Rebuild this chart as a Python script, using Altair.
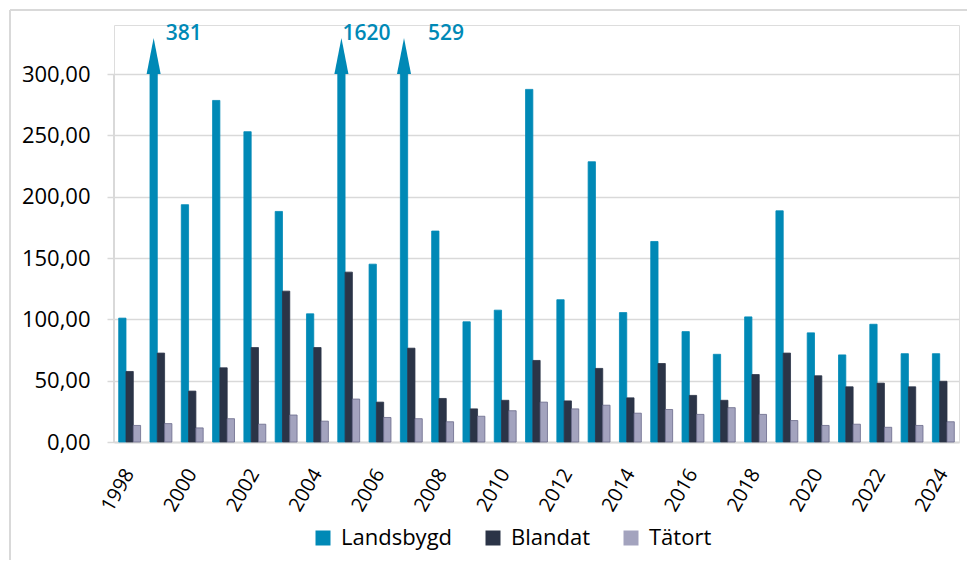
import altair as alt
import pandas as pd

years = [1998, 1999, 2000, 2001, 2002, 2003, 2004, 2005, 2006, 2007, 2008, 2009, 2010,
         2011, 2012, 2013, 2014, 2015, 2016, 2017, 2018, 2019, 2020, 2021, 2022, 2023, 2024]
landsbygd = [101, 381, 193.5, 278.5, 253, 188, 104.5, 1620, 145, 529, 172, 98, 107.5,
             287.5, 116, 228.5, 105.5, 163.5, 90, 71.5, 102, 188.5, 89, 71, 96, 72, 72]
blandat = [57.5, 72.5, 41.5, 60.5, 77, 123, 77, 138.5, 32.5, 76.5, 35.5, 27, 34,
           66.5, 33.5, 60, 36, 64, 38, 34, 55, 72.5, 54, 45, 48, 45, 49.5]
tatort = [13.5, 15, 11.5, 19, 14.5, 22, 17, 35, 20, 19, 16.5, 21, 25.5,
          32.5, 27, 30, 23.5, 26.5, 22.5, 28, 22.5, 17.5, 13.5, 14.5, 12, 13.5, 16.5]
series = ["Landsbygd", "Blandat", "Tätort"]
y_ticks = [0, 50, 100, 150, 200, 250, 300]

colors = ["#0089B6", "#2B3447", "#A3A3BE"]
strokes = ["#0089B6", "#2B3447", "#6A6A8A"]
CAP = 300
label_dx = {1999: 13, 2005: 2, 2007: 25}

rows = []
for i, yr in enumerate(years):
    for s, vals in zip(series, [landsbygd, blandat, tatort]):
        rows.append({"year": yr, "series": s, "value": vals[i]})
df = pd.DataFrame(rows)

FONT = "Open Sans"
GRID = "#d9d9d9"

x_enc = alt.X(
    "year:O",
    scale=alt.Scale(paddingInner=0.3, paddingOuter=0.15),
    axis=alt.Axis(
        values=years[::2], labelAngle=-60, title=None, ticks=False,
        domainColor=GRID, domainWidth=2, labelFontSize=20, labelFont=FONT,
        labelColor="#000000", labelPadding=28, grid=False,
    ),
)
xoff_enc = alt.XOffset("series:N", scale=alt.Scale(domain=series, paddingInner=0, paddingOuter=0))
y_scale = alt.Scale(domain=[0, 340], nice=False)

base = alt.Chart(df)

bars = base.transform_calculate(shown=f"min(datum.value, {CAP})").mark_bar(strokeWidth=0.8).encode(
    x=x_enc,
    xOffset=xoff_enc,
    y=alt.Y(
        "shown:Q",
        scale=y_scale,
        axis=alt.Axis(
            values=y_ticks, title=None, grid=True, gridColor=GRID, gridWidth=1.5,
            domain=False, tickColor=GRID, tickSize=7, tickWidth=1.5,
            labelFontSize=22, labelFont=FONT, labelColor="#000000", labelPadding=17,
            labelExpr="replace(format(datum.value, '.2f'), '.', ',')",
        ),
    ),
    color=alt.Color(
        "series:N",
        scale=alt.Scale(domain=series, range=colors),
        legend=alt.Legend(
            title=None, orient="none", direction="horizontal", legendX=198, legendY=502,
            symbolType="square", symbolSize=225, symbolStrokeWidth=0,
            labelFontSize=22, labelFont=FONT, labelColor="#000000",
            labelOffset=7, columnPadding=29,
        ),
    ),
    stroke=alt.Stroke("series:N", scale=alt.Scale(domain=series, range=strokes), legend=None),
)

y_line = alt.Chart(df).mark_rule(color=GRID, strokeWidth=1.5).encode(
    x=alt.value(0), y=alt.datum(0, scale=y_scale), y2=alt.datum(CAP)
)

frame_top = alt.Chart(df).mark_rule(color=GRID, strokeWidth=1.5, clip=False).encode(
    x=alt.value(-104), x2=alt.value(853), y=alt.value(-15)
)
frame_left = alt.Chart(df).mark_rule(color=GRID, strokeWidth=1.5, clip=False).encode(
    x=alt.value(-104), y=alt.value(-15), y2=alt.value(535)
)

over = base.transform_filter(f"datum.value > {CAP}")

heads = over.mark_point(
    shape="M -0.78 0 L 0 -4 L 0.78 0 Z", size=324, filled=True, opacity=1, color="#0089B6"
).encode(
    x=alt.X("year:O"),
    xOffset=alt.XOffset("series:N"),
    y=alt.Y("cap:Q", scale=y_scale),
).transform_calculate(cap=str(CAP))

labels = []
for yr, dx in label_dx.items():
    labels.append(
        base.transform_filter(f"datum.year == {yr} && datum.series == 'Landsbygd'")
        .transform_calculate(cap=str(CAP))
        .mark_text(align="left", baseline="middle", dx=dx - 1, dy=-40, fontSize=21,
                   fontWeight=600, font="Open Sans", color="#0089B6")
        .encode(
            x=alt.X("year:O"),
            xOffset=alt.XOffset("series:N"),
            y=alt.Y("cap:Q", scale=y_scale),
            text=alt.Text("value:Q", format="d"),
        )
    )

chart = alt.layer(frame_top, frame_left, bars, y_line, heads, *labels).properties(
    width=845, height=417,
    autosize=alt.AutoSizeParams(type="none"),
    padding={"left": 106, "top": 17, "right": 9, "bottom": 119},
).configure_view(stroke=None).configure(background="white")

chart.save("out.html", embed_options={"renderer": "svg", "actions": False})
